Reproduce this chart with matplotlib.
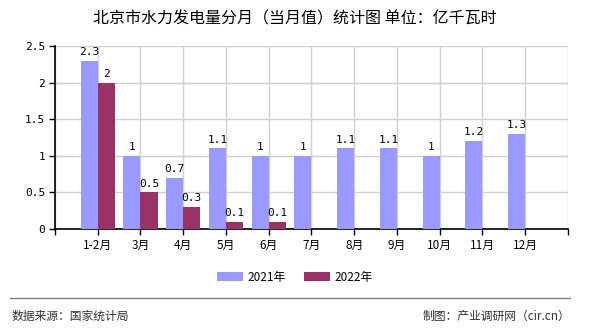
import matplotlib
matplotlib.use("Agg")
import matplotlib.pyplot as plt
import numpy as np

plt.rcParams['font.family'] = ['Noto Sans CJK SC', 'DejaVu Sans']

categories = ["1-2月", "3月", "4月", "5月", "6月", "7月", "8月", "9月", "10月", "11月", "12月"]
s2021 = [2.3, 1, 0.7, 1.1, 1, 1, 1.1, 1.1, 1, 1.2, 1.3]
s2022 = [2, 0.5, 0.3, 0.1, 0.1]
series_names = ["2021年", "2022年"]
title = "北京市水力发电量分月（当月值）统计图 单位：亿千瓦时"
yticks = [0, 0.5, 1, 1.5, 2, 2.5]
ytick_labels = ["0", "0.5", "1", "1.5", "2", "2.5"]

c2021 = "#9999FF"
c2022 = "#993366"
mono = "DejaVu Sans Mono"

fig = plt.figure(figsize=(5.9, 3.3), dpi=100)
ax = fig.add_axes([0.0932, 0.3061, 0.8695, 0.5545])

x = np.arange(len(categories))
w = 0.4
b1 = ax.bar(x[:len(s2021)] - w / 2, s2021, width=w, color=c2021, label=series_names[0], zorder=3)
b2 = ax.bar(x[:len(s2022)] + w / 2, s2022, width=w, color=c2022, label=series_names[1], zorder=3)

for rect, v in zip(b1, s2021):
    ax.text(rect.get_x() + rect.get_width() / 2, v + 0.05, f"{v:g}", ha="center", va="bottom",
            fontsize=8, family=mono, zorder=4)
for rect, v in zip(b2, s2022):
    ax.text(rect.get_x() + rect.get_width() / 2, v + 0.05, f"{v:g}", ha="center", va="bottom",
            fontsize=8, family=mono, zorder=4)

ax.set_xlim(-1, len(categories))
ax.set_ylim(0, 2.5)
ax.set_yticks(yticks)
ax.set_yticklabels(ytick_labels, family=mono, fontsize=8)
ax.set_xticks(np.arange(-1, len(categories) + 1))
ax.set_xticklabels([""] + categories + [""], fontsize=8.5)

ax.grid(True, color="#D0D0D0", linewidth=1, zorder=0)
ax.set_axisbelow(True)
for s in ["top", "right"]:
    ax.spines[s].set_visible(False)
ax.spines["left"].set_color("black")
ax.spines["bottom"].set_color("black")
ax.spines["left"].set_linewidth(1.2)
ax.spines["bottom"].set_linewidth(1.2)
ax.tick_params(axis="both", direction="out", length=4, width=1, colors="black", pad=3)

fig.text(0.5, 0.943, title, ha="center", va="center", fontsize=11.5)

leg = fig.legend(handles=[b1, b2], labels=series_names, loc="center", bbox_to_anchor=(0.5, 0.16),
                 ncol=2, frameon=False, fontsize=8.5, handlelength=2.2, handleheight=0.8,
                 columnspacing=1.5, handletextpad=0.4)

fig.add_artist(plt.Line2D([10 / 590, 570 / 590], [1 - 298 / 330, 1 - 298 / 330],
                          color="#808080", linewidth=1, transform=fig.transFigure))
fig.text(12 / 590, 1 - 316 / 330, "数据来源：国家统计局", ha="left", va="center", fontsize=8.5, color="#333333")
fig.text(570 / 590, 1 - 316 / 330, "制图：产业调研网（cir.cn）", ha="right", va="center", fontsize=8.5,
         color="#333333")

fig.savefig("out.png", dpi=100)
